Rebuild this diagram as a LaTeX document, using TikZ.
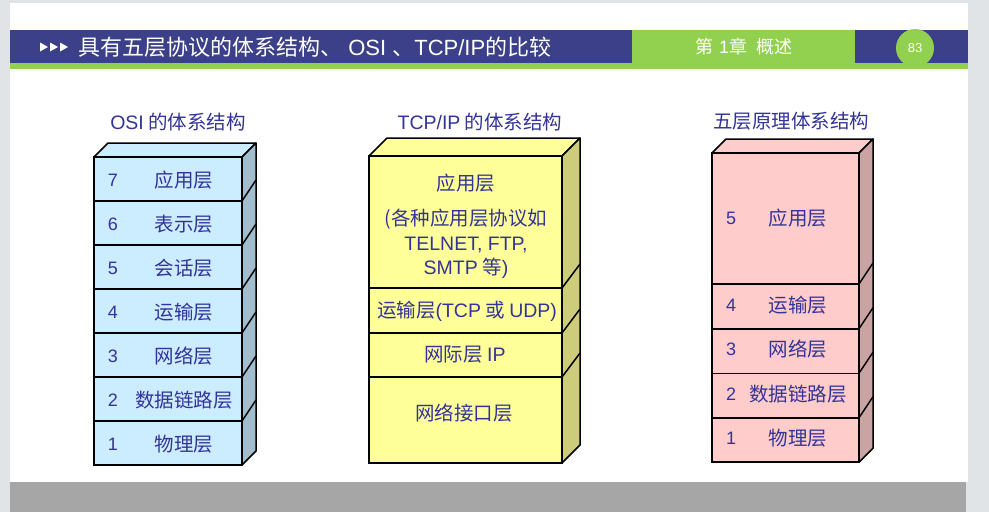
\documentclass[tikz,border=0pt]{standalone}
\usepackage{fontspec}
\setmainfont{Noto Sans CJK SC}
\newfontfamily\lat{Liberation Sans}
\usetikzlibrary{calc}

\definecolor{navy}{HTML}{3C4088}
\definecolor{lime}{HTML}{92D050}
\definecolor{outergray}{HTML}{E1E4E7}
\definecolor{footgray}{HTML}{A6A6A6}
\definecolor{ink}{HTML}{333399}
\definecolor{osifront}{HTML}{CCECFF}
\definecolor{osiside}{HTML}{A2BECE}
\definecolor{tcpfront}{HTML}{FFFF99}
\definecolor{tcpside}{HTML}{CCCC7A}
\definecolor{fivefront}{HTML}{FFCCCC}
\definecolor{fiveside}{HTML}{CCA3A3}

\begin{document}
\begin{tikzpicture}[x=1pt,y=-1pt,
  layerbox/.style={draw=black, line width=1.5pt, inner sep=0pt, outer sep=0pt, minimum width=#1},
  facefill/.style={draw=black, line width=1.5pt, line join=round},
  frame/.style={draw=black, line width=2.2pt},
  labtext/.style={text=ink, inner sep=0pt, font=\fontsize{19.5}{24}\selectfont},
  numtext/.style={text=ink, inner sep=0pt, font=\lat\fontsize{18}{22}\selectfont},
  headtext/.style={text=ink, inner sep=0pt, font=\fontsize{19.5}{24}\selectfont},
]
\useasboundingbox (0,0) rectangle (989,512);

% slide background
\fill[outergray] (0,0) rectangle (989,512);
\fill[white] (10,3) rectangle (968,482);
\fill[footgray] (10,482) rectangle (966,512);

% header bar
\fill[navy] (10,30) rectangle (968,63);
\fill[lime] (632,30) rectangle (855,63);
\fill[lime] (10,63) rectangle (968,69);
\node[circle, fill=lime, minimum size=38pt, inner sep=0pt] (badge) at (915,48) {};
\node[text=white, inner sep=0pt, font=\lat\fontsize{13}{13}\selectfont] (pagenum) at (badge) {83};
\foreach \i in {0,1,2}
  \fill[white] ({40+\i*10},42.5) -- ++(8,4.5) -- ++(-8,4.5) -- cycle;
\node[anchor=west, text=white, inner sep=0pt, font=\fontsize{22}{24}\selectfont] (title) at (78,47)
  {具有五层协议的体系结构、{\lat\ OSI\ }、{\lat TCP/IP}的比较};
\node[text=white, inner sep=0pt, font=\fontsize{18}{20}\selectfont] (chapter) at (744,47)
  {第{\lat\ 1}章\hspace{9pt}概述};

% ---------------- OSI stack ----------------
\node[headtext] (osititle) at (178,122) {{\lat OSI} 的体系结构};
\foreach \n/\lab [count=\k from 0] in {7/应用层,6/表示层,5/会话层,4/运输层,3/网络层,2/数据链路层,1/物理层} {
  \node[layerbox=148pt, minimum height=44pt, fill=osifront] (osi\n) at (168,{179+44*\k}) {};
  \node[numtext] (osinum\n) at (113,{180+44*\k}) {\n};
  \node[labtext] (osilab\n) at (184,{180+44*\k}) {\lab};
}
\draw[facefill, fill=osifront] (osi7.north west) -- ++(14,-14) -- ++(148,0) -- (osi7.north east) -- cycle;
\draw[facefill, fill=osiside] (osi7.north east) -- ++(14,-14) -- ($(osi1.south east)+(14,-14)$) -- (osi1.south east) -- cycle;
\foreach \n in {7,6,5,4,3,2}
  \draw[line width=1.5pt] (osi\n.south east) -- ++(14,-21);
\draw[frame] (osi7.north west) rectangle (osi1.south east);

% ---------------- TCP/IP stack ----------------
\node[headtext] (tcptitle) at (480,122) {{\lat TCP/IP} 的体系结构};
\node[layerbox=193pt, minimum height=132pt, fill=tcpfront] (tcpapp) at (465.5,222) {};
\node[layerbox=193pt, minimum height=45pt, fill=tcpfront] (tcptrans) at (465.5,310.5) {};
\node[layerbox=193pt, minimum height=44pt, fill=tcpfront] (tcpnet) at (465.5,355) {};
\node[layerbox=193pt, minimum height=86pt, fill=tcpfront] (tcplink) at (465.5,420) {};
\draw[facefill, fill=tcpfront] (tcpapp.north west) -- ++(18,-18) -- ++(193,0) -- (tcpapp.north east) -- cycle;
\draw[facefill, fill=tcpside] (tcpapp.north east) -- ++(18,-18) -- ($(tcplink.south east)+(18,-18)$) -- (tcplink.south east) -- cycle;
\foreach \n in {tcpapp,tcptrans,tcpnet}
  \draw[line width=1.5pt] (\n.south east) -- ++(18,-24);
\draw[frame] (tcpapp.north west) rectangle (tcplink.south east);
\node[labtext] (tcpapplab) at (466,183) {应用层};
\node[labtext, align=center, font=\fontsize{19.5}{24.5}\selectfont] (tcpappnote) at (466,244)
  {(各种应用层协议如\\{\lat TELNET, FTP,}\\{\lat SMTP} 等{\lat )}};
\node[labtext] (tcptranslab) at (467,311) {运输层{\lat (TCP} 或 {\lat UDP)}};
\node[labtext] (tcpnetlab) at (465,355) {网际层 {\lat IP}};
\node[labtext] (tcplinklab) at (464,413) {网络接口层};

% ---------------- five-layer stack ----------------
\node[headtext] (fivetitle) at (791,121) {五层原理体系结构};
\node[layerbox=147pt, minimum height=131pt, fill=fivefront] (five5) at (785.5,218.5) {};
\foreach \n/\lab [count=\k from 0] in {4/运输层,3/网络层,2/数据链路层,1/物理层} {
  \node[layerbox=147pt, minimum height=44.5pt, fill=fivefront] (five\n) at (785.5,{306.5+44.5*\k}) {};
  \node[numtext] (fivenum\n) at (731,{305+44.5*\k}) {\n};
  \node[labtext] (fivelab\n) at (798,{305+44.5*\k}) {\lab};
}
\node[numtext] (fivenum5) at (731,218) {5};
\node[labtext] (fivelab5) at (798,218) {应用层};
\draw[facefill, fill=fivefront] (five5.north west) -- ++(14,-14) -- ++(147,0) -- (five5.north east) -- cycle;
\draw[facefill, fill=fiveside] (five5.north east) -- ++(14,-14) -- ($(five1.south east)+(14,-14)$) -- (five1.south east) -- cycle;
\foreach \n in {5,4,3,2}
  \draw[line width=1.5pt] (five\n.south east) -- ++(14,-21);
\draw[frame] (five5.north west) rectangle (five1.south east);
\end{tikzpicture}
\end{document}
